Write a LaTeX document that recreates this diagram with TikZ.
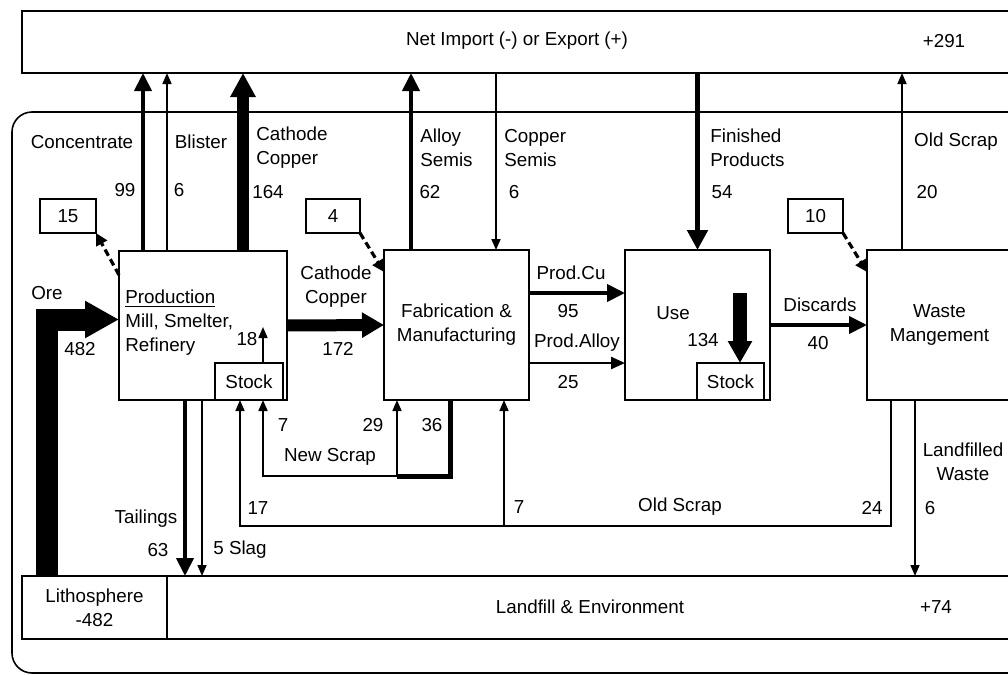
\documentclass[tikz,border=0pt]{standalone}
\usepackage{fontspec}
\setmainfont{Liberation Sans}
\usetikzlibrary{arrows.meta}

\begin{document}
\begin{tikzpicture}[x=0.5pt, y=-0.5pt, font=\fontsize{9.4}{12}\selectfont, line join=miter,
	box/.style={draw, line width=1pt, anchor=north west, inner sep=0pt, outer sep=0pt, align=center, minimum width=72.5pt, minimum height=75pt},
	stock/.style={draw, line width=1pt, anchor=south east, inner sep=0pt, outer sep=0pt, minimum width=34pt, minimum height=18.5pt},
	numbox/.style={draw, line width=0.7pt, anchor=north west, inner sep=0pt, outer sep=0pt, minimum width=28pt, minimum height=17pt},
	lbl/.style={inner sep=1pt, align=center},
	flow/.style={line width=0.8pt, -{Triangle[length=5.5pt,width=4.5pt]}},
	flowmid/.style={line width=2pt, -{Triangle[length=9pt,width=8.5pt]}},
	flowbig/.style={line width=6pt, -{Triangle[length=12pt,width=12pt]}},
	dasharr/.style={line width=1.6pt, dash pattern=on 3.5pt off 2pt, -{Triangle[length=6pt,width=6pt]}}]
	\useasboundingbox (0,0) rectangle (1008,675);
	
	% Khung ngoai
	\draw[line width=0.8pt, rounded corners=10pt] (1040,112) -| (12,673) -- (1040,673);
	
	% Hop tren va duoi
	\node[box, minimum width=510pt, minimum height=31pt] (net) at (22,11) {};
	\node (tNet) at (517,41) {Net Import (-) or Export (+)};
	\node (tNetVal) at (944,41) {+291};
	\node[box, minimum height=31.5pt] (litho) at (22,576) {Lithosphere\\-482};
	\node[box, minimum width=440pt, minimum height=31.5pt] (landfill) at (167,576) {};
	\node (tLand) at (590,607) {Landfill \& Environment};
	\node (tLandVal) at (936,607) {+74};
	
	% Cac quy trinh
	\node[box, minimum width=84pt, minimum height=74.5pt] (prod) at (119,251) {};
	\node[anchor=west, align=left, inner sep=0pt] (tProd) at (125,323) {\underline{Production}\\Mill, Smelter,\\Refinery};
	\node[stock] (pstock) at (283,400) {Stock};
	\node[box] (fab) at (384,250) {Fabrication \&\\Manufacturing};
	\node[box] (use) at (625,250) {};
	\node (tUse) at (673,313) {Use};
	\node[stock, minimum width=33.5pt] (ustock) at (764,400) {Stock};
	\node[box] (waste) at (867,250) {Waste\\Mangement};
	
	% Hop so
	\node[numbox] (b15) at (40,199) {15};
	\node[numbox, minimum width=27pt] (b4) at (306,199) {4};
	\node[numbox, minimum width=27.5pt] (b10) at (788,199) {10};
	\draw[dasharr] ([yshift=-12pt]prod.north west) -- (b15.south east);
	\draw[dasharr] (b4.south east) -- ([yshift=-11pt]fab.north west);
	\draw[dasharr] (b10.south east) -- ([yshift=-11pt]waste.north west);
	
	% Ore
	\draw[line width=11pt, -{Triangle[length=17pt,width=17.5pt]}] ([xshift=12.5pt]litho.north west) |- ([yshift=3pt]prod.west);
	\node (tOre) at (47,293) {Ore};
	\node (tOreVal) at (80,349) {482};
	
	% Xuat nhap khau
	\draw[flowmid] ([xshift=12pt]prod.north west) -- ([xshift=12pt]prod.north west |- net.south);
	\draw[flow] ([xshift=24pt]prod.north west) -- ([xshift=24pt]prod.north west |- net.south);
	\draw[flowbig] ([xshift=62pt]prod.north west) -- ([xshift=62pt]prod.north west |- net.south);
	\draw[flowmid] ([xshift=13.5pt]fab.north west) -- ([xshift=13.5pt]fab.north west |- net.south);
	\draw[flow] ([xshift=56pt]fab.north west |- net.south) -- ([xshift=56pt]fab.north west);
	\draw[flowmid, line width=2.5pt, -{Triangle[length=10pt,width=10pt]}] (use.north |- net.south) -- (use.north);
	\draw[flow] ([xshift=17.5pt]waste.north west) -- ([xshift=17.5pt]waste.north west |- net.south);
	\node (tConc) at (82,142) {Concentrate};
	\node (tConcVal) at (125,190) {99};
	\node (tBlis) at (201,142) {Blister};
	\node (tBlisVal) at (179,190) {6};
	\node[anchor=west, align=left, inner sep=0pt] (tCath) at (256,148) {Cathode\\Copper};
	\node (tCathVal) at (268,192) {164};
	\node[anchor=west, align=left, inner sep=0pt] (tAlloy) at (420,148) {Alloy\\Semis};
	\node (tAlloyVal) at (430,192) {62};
	\node[anchor=west, align=left, inner sep=0pt] (tCuSemi) at (504,148) {Copper\\Semis};
	\node (tCuSemiVal) at (514,192) {6};
	\node[anchor=west, align=left, inner sep=0pt] (tFin) at (710,148) {Finished\\Products};
	\node (tFinVal) at (722,192) {54};
	\node (tOldEx) at (956,142) {Old Scrap};
	\node (tOldExVal) at (927,192) {20};
	
	% Dong chinh
	\draw[line width=6pt, -{Triangle[length=11pt,width=12pt]}] (prod.east) -- (fab.west);
	\node[lbl] (tCath2) at (336,287) {Cathode\\Copper};
	\node (tCath2Val) at (338,349) {172};
	\draw[flow] ([xshift=24pt]pstock.north west) -- ++(0,-36);
	\node (tStockVal) at (247,339) {18};
	\draw[flowmid] ([yshift=16pt]fab.east) -- ([yshift=16pt]fab.east -| use.west);
	\draw[line width=1.2pt, -{Triangle[length=7pt,width=6pt]}] ([yshift=-19pt]fab.east) -- ([yshift=-19pt]fab.east -| use.west);
	\node (tPCu) at (571,273) {Prod.Cu};
	\node (tPCuVal) at (568,311) {95};
	\node (tPAl) at (577,343) {Prod.Alloy};
	\node (tPAlVal) at (568,382) {25};
	\draw[line width=7pt, -{Triangle[length=11pt,width=11.5pt]}] ([xshift=57.5pt,yshift=-21.5pt]use.north west) -- ([xshift=57.5pt]use.north west |- ustock.north);
	\node (tUseVal) at (703,340) {134};
	\draw[flowmid] (use.east) -- (waste.west);
	\node (tDisc) at (820,305) {Discards};
	\node (tDiscVal) at (818,343) {40};
	
	% Xuong lithosphere
	\draw[flowmid] ([xshift=33pt]prod.south west) -- ([xshift=33pt]prod.south west |- landfill.north);
	\draw[flow] ([xshift=41.5pt]prod.south west) -- ([xshift=41.5pt]prod.south west |- landfill.north);
	\draw[flow] ([xshift=24pt]waste.south west) -- ([xshift=24pt]waste.south west |- landfill.north);
	\node (tTail) at (146,519) {Tailings};
	\node (tTailVal) at (158,550) {63};
	\node (tSlag) at (240,550) {5 Slag};
	\node[lbl] (tLfw) at (963,462) {Landfilled\\Waste};
	\node (tLfwVal) at (930,508) {6};
	
	% New scrap
	\coordinate (nsr) at (450,476);
	\coordinate (nsl) at (397,476);
	\coordinate (nsp) at (263,476);
	\draw[line width=2.5pt] (nsr |- fab.south) -- (nsr) -- (nsl);
	\draw[flow] (nsl) -- (nsl |- fab.south);
	\draw[flow] (nsl) -- (nsp) -- (nsp |- prod.south);
	\node (tNs7) at (283,425) {7};
	\node (tNs29) at (373,425) {29};
	\node (tNs36) at (432,425) {36};
	\node (tNs) at (330,457) {New Scrap};
	
	% Old scrap
	\coordinate (osr) at (891,526);
	\coordinate (osm) at (504,526);
	\coordinate (osl) at (240,526);
	\draw[flow] (osr |- waste.south) -- (osr) -- (osl) -- (osl |- prod.south);
	\draw[flow] (osm) -- (osm |- fab.south);
	\node (tOs17) at (258,508) {17};
	\node (tOs7) at (519,507) {7};
	\node (tOs) at (680,507) {Old Scrap};
	\node (tOs24) at (872,508) {24};
\end{tikzpicture}
\end{document}
